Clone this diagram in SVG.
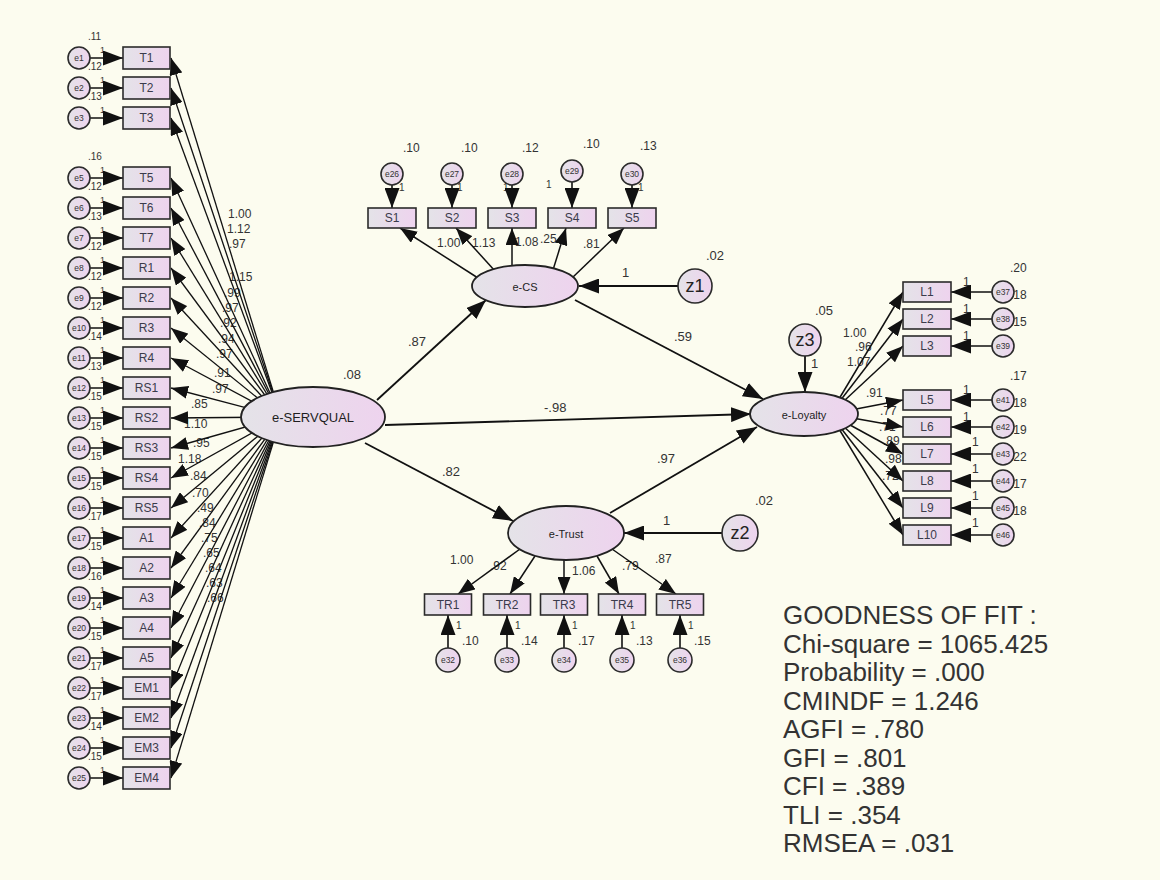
<svg xmlns="http://www.w3.org/2000/svg" width="1160" height="880" viewBox="0 0 1160 880">
<defs>
  <linearGradient id="gFill" x1="0" y1="0" x2="1" y2="0">
    <stop offset="0" stop-color="#e4e3e8"/>
    <stop offset="1" stop-color="#eed3ee"/>
  </linearGradient>
  <marker id="ah" viewBox="0 0 17 13" markerWidth="17" markerHeight="13" refX="17" refY="6.5" orient="auto" markerUnits="userSpaceOnUse">
    <path d="M0,0 L17,6.5 L0,13 z" fill="#111"/>
  </marker>
  <marker id="ahb" viewBox="0 0 20 15" markerWidth="20" markerHeight="15" refX="20" refY="7.5" orient="auto" markerUnits="userSpaceOnUse">
    <path d="M0,0 L20,7.5 L0,15 z" fill="#111"/>
  </marker>
</defs>
<style>
  .box{fill:url(#gFill);stroke:#2b2b2b;stroke-width:1.6}
  .lat{fill:url(#gFill);stroke:#222;stroke-width:1.8}
  .err{fill:url(#gFill);stroke:#2b2b2b;stroke-width:1.6}
  .c{stroke:#111;stroke-width:1.5;fill:none;marker-end:url(#ah)}
  .cf{stroke:#111;stroke-width:1.3;fill:none;marker-end:url(#ah)}
  .ce{stroke:#111;stroke-width:1.6;fill:none;marker-end:url(#ahb)}
  .cs{stroke:#111;stroke-width:1.8;fill:none;marker-end:url(#ahb)}
  text{font-family:"Liberation Sans",Arial,sans-serif;fill:#333}
  .bl{font-size:12px;text-anchor:middle;fill:#3b3b4b}
  .el{font-size:8.5px;text-anchor:middle;fill:#333}
  .ln{font-size:13px;text-anchor:middle;fill:#1e1e1e}
  .zl{font-size:18px;text-anchor:middle;fill:#222}
  .n{font-size:12px}
  .s{font-size:10px}
  .t{font-size:9px}
  .p{font-size:13px}
  .fit{font-size:26px;fill:#2a2a2a}
</style>

<rect x="0" y="0" width="1160" height="880" fill="#fcfcef"/>

<!-- estimates: variances, fixed weights, loadings, paths -->
<g id="labels">
  <!-- error variances, left column -->
  <g class="s">
    <text x="88" y="40">.11</text><text x="88" y="70">.12</text><text x="88" y="100">.13</text>
    <text x="88" y="160">.16</text><text x="88" y="190">.12</text><text x="88" y="220">.13</text>
    <text x="88" y="250">.12</text><text x="88" y="280">.12</text><text x="88" y="310">.12</text>
    <text x="88" y="340">.14</text><text x="88" y="370">.13</text><text x="88" y="400">.15</text>
    <text x="88" y="430">.15</text><text x="88" y="460">.15</text><text x="88" y="490">.15</text>
    <text x="88" y="520">.17</text><text x="88" y="550">.15</text><text x="88" y="580">.16</text>
    <text x="88" y="610">.14</text><text x="88" y="640">.15</text><text x="88" y="670">.17</text>
    <text x="88" y="700">.17</text><text x="88" y="730">.14</text><text x="88" y="760">.15</text>
  </g>
  <g class="t">
    <text x="100" y="53">1</text><text x="100" y="83">1</text><text x="100" y="113">1</text>
    <text x="100" y="173">1</text><text x="100" y="203">1</text><text x="100" y="233">1</text>
    <text x="100" y="263">1</text><text x="100" y="293">1</text><text x="100" y="323">1</text>
    <text x="100" y="353">1</text><text x="100" y="383">1</text><text x="100" y="413">1</text>
    <text x="100" y="443">1</text><text x="100" y="473">1</text><text x="100" y="503">1</text>
    <text x="100" y="533">1</text><text x="100" y="563">1</text><text x="100" y="593">1</text>
    <text x="100" y="623">1</text><text x="100" y="653">1</text><text x="100" y="683">1</text>
    <text x="100" y="713">1</text><text x="100" y="743">1</text><text x="100" y="773">1</text>
  </g>
  <!-- e-SERVQUAL loadings -->
  <g class="n">
    <text x="228" y="218">1.00</text><text x="227" y="233">1.12</text><text x="229" y="248">.97</text>
    <text x="229" y="281">1.15</text><text x="224" y="297">.99</text><text x="222" y="312">.97</text>
    <text x="220" y="327">.92</text><text x="218" y="343">.94</text><text x="216" y="358">.97</text>
    <text x="214" y="377">.91</text><text x="212" y="393">.97</text><text x="191" y="408">.85</text>
    <text x="184" y="428">1.10</text><text x="193" y="447">.95</text><text x="178" y="463">1.18</text>
    <text x="190" y="480">.84</text><text x="192" y="497">.70</text><text x="197" y="512">.49</text>
    <text x="199" y="527">.84</text><text x="201" y="542">.75</text><text x="203" y="557">.65</text>
    <text x="205" y="572">.64</text><text x="206" y="587">.63</text><text x="207" y="602">.66</text>
  </g>
  <!-- e-CS block -->
  <g class="n">
    <text x="403" y="152">.10</text><text x="461" y="152">.10</text><text x="522" y="152">.12</text>
    <text x="583" y="148">.10</text><text x="640" y="150">.13</text>
    <text x="437" y="247">1.00</text><text x="472" y="247">1.13</text><text x="515" y="246">1.08</text>
    <text x="540" y="243">.25</text><text x="583" y="248">.81</text>
  </g>
  <g class="s">
    <text x="399" y="191">1</text><text x="457" y="191">1</text><text x="503" y="191">1</text>
    <text x="546" y="188">1</text><text x="638" y="191">1</text>
  </g>
  <!-- e-Trust block -->
  <g class="n">
    <text x="450" y="564">1.00</text><text x="490" y="570">.92</text><text x="572" y="575">1.06</text>
    <text x="622" y="570">.79</text><text x="655" y="563">.87</text>
    <text x="462" y="645">.10</text><text x="521" y="645">.14</text><text x="578" y="645">.17</text>
    <text x="636" y="645">.13</text><text x="694" y="645">.15</text>
  </g>
  <g class="s">
    <text x="456" y="629">1</text><text x="515" y="629">1</text><text x="572" y="629">1</text>
    <text x="630" y="629">1</text><text x="688" y="629">1</text>
  </g>
  <!-- e-Loyalty block -->
  <g class="n">
    <text x="843" y="337">1.00</text><text x="855" y="351">.96</text><text x="847" y="366">1.07</text>
    <text x="866" y="397">.91</text><text x="880" y="415">.77</text><text x="879" y="431">.71</text>
    <text x="883" y="445">.89</text><text x="885" y="463">.98</text><text x="882" y="480">.72</text>
    <text x="1010" y="272">.20</text><text x="1010" y="299">.18</text><text x="1010" y="326">.15</text>
    <text x="1010" y="380">.17</text><text x="1010" y="407">.18</text><text x="1010" y="434">.19</text>
    <text x="1010" y="461">.22</text><text x="1010" y="488">.17</text><text x="1010" y="515">.18</text>
  </g>
  <g class="n">
    <text x="963" y="286">1</text><text x="963" y="313">1</text><text x="963" y="340">1</text>
    <text x="963" y="394">1</text><text x="963" y="421">1</text><text x="972" y="446">1</text>
    <text x="972" y="473">1</text><text x="972" y="500">1</text><text x="972" y="527">1</text>
  </g>
  <!-- structural paths and disturbances -->
  <g class="p">
    <text x="343" y="379">.08</text>
    <text x="408" y="346">.87</text>
    <text x="544" y="412">-.98</text>
    <text x="442" y="476">.82</text>
    <text x="674" y="341">.59</text>
    <text x="657" y="463">.97</text>
    <text x="622" y="277">1</text>
    <text x="706" y="260">.02</text>
    <text x="663" y="525">1</text>
    <text x="755" y="505">.02</text>
    <text x="815" y="315">.05</text>
    <text x="811" y="368">1</text>
  </g>
</g>

<g id="connectors">
  <!-- e-SERVQUAL to its indicators -->
  <g>
    <line class="cf" x1="281" y1="417" x2="171" y2="58"/>
    <line class="cf" x1="281" y1="417" x2="171" y2="88"/>
    <line class="cf" x1="281" y1="417" x2="171" y2="118"/>
    <line class="cf" x1="281" y1="417" x2="171" y2="178"/>
    <line class="cf" x1="281" y1="417" x2="171" y2="208"/>
    <line class="cf" x1="281" y1="417" x2="171" y2="238"/>
    <line class="cf" x1="281" y1="417" x2="171" y2="268"/>
    <line class="cf" x1="281" y1="417" x2="171" y2="298"/>
    <line class="cf" x1="281" y1="417" x2="171" y2="328"/>
    <line class="cf" x1="281" y1="417" x2="171" y2="358"/>
    <line class="cf" x1="281" y1="417" x2="171" y2="388"/>
    <line class="cf" x1="281" y1="417" x2="171" y2="418"/>
    <line class="cf" x1="281" y1="417" x2="171" y2="448"/>
    <line class="cf" x1="281" y1="417" x2="171" y2="478"/>
    <line class="cf" x1="281" y1="417" x2="171" y2="508"/>
    <line class="cf" x1="281" y1="417" x2="171" y2="538"/>
    <line class="cf" x1="281" y1="417" x2="171" y2="568"/>
    <line class="cf" x1="281" y1="417" x2="171" y2="598"/>
    <line class="cf" x1="281" y1="417" x2="171" y2="628"/>
    <line class="cf" x1="281" y1="417" x2="171" y2="658"/>
    <line class="cf" x1="281" y1="417" x2="171" y2="688"/>
    <line class="cf" x1="281" y1="417" x2="171" y2="718"/>
    <line class="cf" x1="281" y1="417" x2="171" y2="748"/>
    <line class="cf" x1="281" y1="417" x2="171" y2="778"/>
  </g>
  <!-- left error terms -->
  <g>
    <line class="ce" x1="90" y1="58" x2="123" y2="58"/>
    <line class="ce" x1="90" y1="88" x2="123" y2="88"/>
    <line class="ce" x1="90" y1="118" x2="123" y2="118"/>
    <line class="ce" x1="90" y1="178" x2="123" y2="178"/>
    <line class="ce" x1="90" y1="208" x2="123" y2="208"/>
    <line class="ce" x1="90" y1="238" x2="123" y2="238"/>
    <line class="ce" x1="90" y1="268" x2="123" y2="268"/>
    <line class="ce" x1="90" y1="298" x2="123" y2="298"/>
    <line class="ce" x1="90" y1="328" x2="123" y2="328"/>
    <line class="ce" x1="90" y1="358" x2="123" y2="358"/>
    <line class="ce" x1="90" y1="388" x2="123" y2="388"/>
    <line class="ce" x1="90" y1="418" x2="123" y2="418"/>
    <line class="ce" x1="90" y1="448" x2="123" y2="448"/>
    <line class="ce" x1="90" y1="478" x2="123" y2="478"/>
    <line class="ce" x1="90" y1="508" x2="123" y2="508"/>
    <line class="ce" x1="90" y1="538" x2="123" y2="538"/>
    <line class="ce" x1="90" y1="568" x2="123" y2="568"/>
    <line class="ce" x1="90" y1="598" x2="123" y2="598"/>
    <line class="ce" x1="90" y1="628" x2="123" y2="628"/>
    <line class="ce" x1="90" y1="658" x2="123" y2="658"/>
    <line class="ce" x1="90" y1="688" x2="123" y2="688"/>
    <line class="ce" x1="90" y1="718" x2="123" y2="718"/>
    <line class="ce" x1="90" y1="748" x2="123" y2="748"/>
    <line class="ce" x1="90" y1="778" x2="123" y2="778"/>
  </g>
  <!-- e-CS indicators -->
  <g>
    <line class="c" x1="478" y1="278" x2="400" y2="228"/>
    <line class="c" x1="495" y1="271" x2="456" y2="228"/>
    <line class="c" x1="512" y1="268" x2="512" y2="228"/>
    <line class="c" x1="553" y1="270" x2="566" y2="228"/>
    <line class="c" x1="572" y1="278" x2="624" y2="228"/>
    <line class="ce" x1="392" y1="185" x2="392" y2="208"/>
    <line class="ce" x1="452" y1="185" x2="452" y2="208"/>
    <line class="ce" x1="512" y1="185" x2="512" y2="208"/>
    <line class="ce" x1="572" y1="182" x2="572" y2="208"/>
    <line class="ce" x1="632" y1="185" x2="632" y2="208"/>
  </g>
  <!-- e-Trust indicators -->
  <g>
    <line class="c" x1="520" y1="549" x2="458" y2="594"/>
    <line class="c" x1="535" y1="556" x2="510" y2="594"/>
    <line class="c" x1="564" y1="560" x2="564" y2="594"/>
    <line class="c" x1="597" y1="556" x2="619" y2="594"/>
    <line class="c" x1="612" y1="549" x2="676" y2="594"/>
    <line class="ce" x1="448" y1="648" x2="448" y2="615"/>
    <line class="ce" x1="507" y1="648" x2="507" y2="615"/>
    <line class="ce" x1="564" y1="648" x2="564" y2="615"/>
    <line class="ce" x1="622" y1="648" x2="622" y2="615"/>
    <line class="ce" x1="680" y1="648" x2="680" y2="615"/>
  </g>
  <!-- e-Loyalty indicators -->
  <g>
    <line class="c" x1="830" y1="414" x2="903" y2="292"/>
    <line class="c" x1="830" y1="414" x2="903" y2="319"/>
    <line class="c" x1="830" y1="414" x2="903" y2="346"/>
    <line class="c" x1="830" y1="414" x2="903" y2="400"/>
    <line class="c" x1="830" y1="414" x2="903" y2="427"/>
    <line class="c" x1="830" y1="414" x2="903" y2="454"/>
    <line class="c" x1="830" y1="414" x2="903" y2="481"/>
    <line class="c" x1="830" y1="414" x2="903" y2="508"/>
    <line class="c" x1="830" y1="414" x2="903" y2="535"/>
    <line class="ce" x1="992" y1="292" x2="951" y2="292"/>
    <line class="ce" x1="992" y1="319" x2="951" y2="319"/>
    <line class="ce" x1="992" y1="346" x2="951" y2="346"/>
    <line class="ce" x1="992" y1="400" x2="951" y2="400"/>
    <line class="ce" x1="992" y1="427" x2="951" y2="427"/>
    <line class="ce" x1="992" y1="454" x2="951" y2="454"/>
    <line class="ce" x1="992" y1="481" x2="951" y2="481"/>
    <line class="ce" x1="992" y1="508" x2="951" y2="508"/>
    <line class="ce" x1="992" y1="535" x2="951" y2="535"/>
  </g>
  <!-- structural paths -->
  <g>
    <line class="cs" x1="377" y1="400" x2="486" y2="300"/>
    <line class="cs" x1="385" y1="425" x2="751" y2="414"/>
    <line class="cs" x1="365" y1="443" x2="513" y2="521"/>
    <line class="cs" x1="575" y1="300" x2="763" y2="399"/>
    <line class="cs" x1="610" y1="513" x2="757" y2="427"/>
    <line class="cs" x1="678" y1="286" x2="579" y2="286"/>
    <line class="cs" x1="722" y1="533" x2="624" y2="533"/>
    <line class="cs" x1="805" y1="356" x2="805" y2="392"/>
  </g>
</g>

<!-- latent variables -->
<g id="e-SERVQUAL"><ellipse class="lat" cx="313" cy="417" rx="72" ry="30"/><text class="ln" x="313" y="422">e-SERVQUAL</text></g>
<g id="e-CS"><ellipse class="lat" cx="525" cy="286" rx="53" ry="21"/><text class="ln" x="525" y="291" style="font-size:11px">e-CS</text></g>
<g id="e-Trust"><ellipse class="lat" cx="566" cy="533" rx="58" ry="27"/><text class="ln" x="566" y="538" style="font-size:11px">e-Trust</text></g>
<g id="e-Loyalty"><ellipse class="lat" cx="804" cy="414" rx="54" ry="22"/><text class="ln" x="804" y="419" style="font-size:11px">e-Loyalty</text></g>

<!-- disturbances -->
<g id="z1"><circle class="err" cx="695" cy="286" r="17"/><text class="zl" x="695" y="292">z1</text></g>
<g id="z2"><circle class="err" cx="740" cy="533" r="18"/><text class="zl" x="740" y="539">z2</text></g>
<g id="z3"><circle class="err" cx="805" cy="340" r="16"/><text class="zl" x="805" y="346">z3</text></g>

<!-- e-SERVQUAL indicators -->
<g id="T1"><rect class="box" x="123" y="47" width="47" height="22"/><text class="bl" x="146.5" y="62">T1</text></g>
<g id="T2"><rect class="box" x="123" y="77" width="47" height="22"/><text class="bl" x="146.5" y="92">T2</text></g>
<g id="T3"><rect class="box" x="123" y="107" width="47" height="22"/><text class="bl" x="146.5" y="122">T3</text></g>
<g id="T5"><rect class="box" x="123" y="167" width="47" height="22"/><text class="bl" x="146.5" y="182">T5</text></g>
<g id="T6"><rect class="box" x="123" y="197" width="47" height="22"/><text class="bl" x="146.5" y="212">T6</text></g>
<g id="T7"><rect class="box" x="123" y="227" width="47" height="22"/><text class="bl" x="146.5" y="242">T7</text></g>
<g id="R1"><rect class="box" x="123" y="257" width="47" height="22"/><text class="bl" x="146.5" y="272">R1</text></g>
<g id="R2"><rect class="box" x="123" y="287" width="47" height="22"/><text class="bl" x="146.5" y="302">R2</text></g>
<g id="R3"><rect class="box" x="123" y="317" width="47" height="22"/><text class="bl" x="146.5" y="332">R3</text></g>
<g id="R4"><rect class="box" x="123" y="347" width="47" height="22"/><text class="bl" x="146.5" y="362">R4</text></g>
<g id="RS1"><rect class="box" x="123" y="377" width="47" height="22"/><text class="bl" x="146.5" y="392">RS1</text></g>
<g id="RS2"><rect class="box" x="123" y="407" width="47" height="22"/><text class="bl" x="146.5" y="422">RS2</text></g>
<g id="RS3"><rect class="box" x="123" y="437" width="47" height="22"/><text class="bl" x="146.5" y="452">RS3</text></g>
<g id="RS4"><rect class="box" x="123" y="467" width="47" height="22"/><text class="bl" x="146.5" y="482">RS4</text></g>
<g id="RS5"><rect class="box" x="123" y="497" width="47" height="22"/><text class="bl" x="146.5" y="512">RS5</text></g>
<g id="A1"><rect class="box" x="123" y="527" width="47" height="22"/><text class="bl" x="146.5" y="542">A1</text></g>
<g id="A2"><rect class="box" x="123" y="557" width="47" height="22"/><text class="bl" x="146.5" y="572">A2</text></g>
<g id="A3"><rect class="box" x="123" y="587" width="47" height="22"/><text class="bl" x="146.5" y="602">A3</text></g>
<g id="A4"><rect class="box" x="123" y="617" width="47" height="22"/><text class="bl" x="146.5" y="632">A4</text></g>
<g id="A5"><rect class="box" x="123" y="647" width="47" height="22"/><text class="bl" x="146.5" y="662">A5</text></g>
<g id="EM1"><rect class="box" x="123" y="677" width="47" height="22"/><text class="bl" x="146.5" y="692">EM1</text></g>
<g id="EM2"><rect class="box" x="123" y="707" width="47" height="22"/><text class="bl" x="146.5" y="722">EM2</text></g>
<g id="EM3"><rect class="box" x="123" y="737" width="47" height="22"/><text class="bl" x="146.5" y="752">EM3</text></g>
<g id="EM4"><rect class="box" x="123" y="767" width="47" height="22"/><text class="bl" x="146.5" y="782">EM4</text></g>

<!-- left error terms -->
<g id="e1"><circle class="err" cx="79" cy="58" r="11"/><text class="el" x="79" y="61">e1</text></g>
<g id="e2"><circle class="err" cx="79" cy="88" r="11"/><text class="el" x="79" y="91">e2</text></g>
<g id="e3"><circle class="err" cx="79" cy="118" r="11"/><text class="el" x="79" y="121">e3</text></g>
<g id="e5"><circle class="err" cx="79" cy="178" r="11"/><text class="el" x="79" y="181">e5</text></g>
<g id="e6"><circle class="err" cx="79" cy="208" r="11"/><text class="el" x="79" y="211">e6</text></g>
<g id="e7"><circle class="err" cx="79" cy="238" r="11"/><text class="el" x="79" y="241">e7</text></g>
<g id="e8"><circle class="err" cx="79" cy="268" r="11"/><text class="el" x="79" y="271">e8</text></g>
<g id="e9"><circle class="err" cx="79" cy="298" r="11"/><text class="el" x="79" y="301">e9</text></g>
<g id="e10"><circle class="err" cx="79" cy="328" r="11"/><text class="el" x="79" y="331">e10</text></g>
<g id="e11"><circle class="err" cx="79" cy="358" r="11"/><text class="el" x="79" y="361">e11</text></g>
<g id="e12"><circle class="err" cx="79" cy="388" r="11"/><text class="el" x="79" y="391">e12</text></g>
<g id="e13"><circle class="err" cx="79" cy="418" r="11"/><text class="el" x="79" y="421">e13</text></g>
<g id="e14"><circle class="err" cx="79" cy="448" r="11"/><text class="el" x="79" y="451">e14</text></g>
<g id="e15"><circle class="err" cx="79" cy="478" r="11"/><text class="el" x="79" y="481">e15</text></g>
<g id="e16"><circle class="err" cx="79" cy="508" r="11"/><text class="el" x="79" y="511">e16</text></g>
<g id="e17"><circle class="err" cx="79" cy="538" r="11"/><text class="el" x="79" y="541">e17</text></g>
<g id="e18"><circle class="err" cx="79" cy="568" r="11"/><text class="el" x="79" y="571">e18</text></g>
<g id="e19"><circle class="err" cx="79" cy="598" r="11"/><text class="el" x="79" y="601">e19</text></g>
<g id="e20"><circle class="err" cx="79" cy="628" r="11"/><text class="el" x="79" y="631">e20</text></g>
<g id="e21"><circle class="err" cx="79" cy="658" r="11"/><text class="el" x="79" y="661">e21</text></g>
<g id="e22"><circle class="err" cx="79" cy="688" r="11"/><text class="el" x="79" y="691">e22</text></g>
<g id="e23"><circle class="err" cx="79" cy="718" r="11"/><text class="el" x="79" y="721">e23</text></g>
<g id="e24"><circle class="err" cx="79" cy="748" r="11"/><text class="el" x="79" y="751">e24</text></g>
<g id="e25"><circle class="err" cx="79" cy="778" r="11"/><text class="el" x="79" y="781">e25</text></g>

<!-- e-CS indicators and errors -->
<g id="S1"><rect class="box" x="368" y="208" width="48" height="20"/><text class="bl" x="392" y="222">S1</text></g>
<g id="S2"><rect class="box" x="428" y="208" width="48" height="20"/><text class="bl" x="452" y="222">S2</text></g>
<g id="S3"><rect class="box" x="488" y="208" width="48" height="20"/><text class="bl" x="512" y="222">S3</text></g>
<g id="S4"><rect class="box" x="548" y="208" width="48" height="20"/><text class="bl" x="572" y="222">S4</text></g>
<g id="S5"><rect class="box" x="608" y="208" width="48" height="20"/><text class="bl" x="632" y="222">S5</text></g>
<g id="e26"><circle class="err" cx="392" cy="174" r="11"/><text class="el" x="392" y="177">e26</text></g>
<g id="e27"><circle class="err" cx="452" cy="174" r="11"/><text class="el" x="452" y="177">e27</text></g>
<g id="e28"><circle class="err" cx="512" cy="174" r="11"/><text class="el" x="512" y="177">e28</text></g>
<g id="e29"><circle class="err" cx="572" cy="171" r="11"/><text class="el" x="572" y="174">e29</text></g>
<g id="e30"><circle class="err" cx="632" cy="174" r="11"/><text class="el" x="632" y="177">e30</text></g>

<!-- e-Trust indicators and errors -->
<g id="TR1"><rect class="box" x="424.5" y="594" width="47" height="21"/><text class="bl" x="448" y="609">TR1</text></g>
<g id="TR2"><rect class="box" x="483.5" y="594" width="47" height="21"/><text class="bl" x="507" y="609">TR2</text></g>
<g id="TR3"><rect class="box" x="540.5" y="594" width="47" height="21"/><text class="bl" x="564" y="609">TR3</text></g>
<g id="TR4"><rect class="box" x="598.5" y="594" width="47" height="21"/><text class="bl" x="622" y="609">TR4</text></g>
<g id="TR5"><rect class="box" x="656.5" y="594" width="47" height="21"/><text class="bl" x="680" y="609">TR5</text></g>
<g id="e32"><circle class="err" cx="448" cy="660" r="12"/><text class="el" x="448" y="663">e32</text></g>
<g id="e33"><circle class="err" cx="507" cy="660" r="12"/><text class="el" x="507" y="663">e33</text></g>
<g id="e34"><circle class="err" cx="564" cy="660" r="12"/><text class="el" x="564" y="663">e34</text></g>
<g id="e35"><circle class="err" cx="622" cy="660" r="12"/><text class="el" x="622" y="663">e35</text></g>
<g id="e36"><circle class="err" cx="680" cy="660" r="12"/><text class="el" x="680" y="663">e36</text></g>

<!-- e-Loyalty indicators and errors -->
<g id="L1"><rect class="box" x="903" y="282" width="48" height="20"/><text class="bl" x="927" y="296">L1</text></g>
<g id="L2"><rect class="box" x="903" y="309" width="48" height="20"/><text class="bl" x="927" y="323">L2</text></g>
<g id="L3"><rect class="box" x="903" y="336" width="48" height="20"/><text class="bl" x="927" y="350">L3</text></g>
<g id="L5"><rect class="box" x="903" y="390" width="48" height="20"/><text class="bl" x="927" y="404">L5</text></g>
<g id="L6"><rect class="box" x="903" y="417" width="48" height="20"/><text class="bl" x="927" y="431">L6</text></g>
<g id="L7"><rect class="box" x="903" y="444" width="48" height="20"/><text class="bl" x="927" y="458">L7</text></g>
<g id="L8"><rect class="box" x="903" y="471" width="48" height="20"/><text class="bl" x="927" y="485">L8</text></g>
<g id="L9"><rect class="box" x="903" y="498" width="48" height="20"/><text class="bl" x="927" y="512">L9</text></g>
<g id="L10"><rect class="box" x="903" y="525" width="48" height="20"/><text class="bl" x="927" y="539">L10</text></g>
<g id="e37"><circle class="err" cx="1003" cy="292" r="11"/><text class="el" x="1003" y="295">e37</text></g>
<g id="e38"><circle class="err" cx="1003" cy="319" r="11"/><text class="el" x="1003" y="322">e38</text></g>
<g id="e39"><circle class="err" cx="1003" cy="346" r="11"/><text class="el" x="1003" y="349">e39</text></g>
<g id="e41"><circle class="err" cx="1003" cy="400" r="11"/><text class="el" x="1003" y="403">e41</text></g>
<g id="e42"><circle class="err" cx="1003" cy="427" r="11"/><text class="el" x="1003" y="430">e42</text></g>
<g id="e43"><circle class="err" cx="1003" cy="454" r="11"/><text class="el" x="1003" y="457">e43</text></g>
<g id="e44"><circle class="err" cx="1003" cy="481" r="11"/><text class="el" x="1003" y="484">e44</text></g>
<g id="e45"><circle class="err" cx="1003" cy="508" r="11"/><text class="el" x="1003" y="511">e45</text></g>
<g id="e46"><circle class="err" cx="1003" cy="535" r="11"/><text class="el" x="1003" y="538">e46</text></g>

<!-- fit summary -->
<g id="fit" class="fit">
  <text x="783" y="624">GOODNESS OF FIT :</text>
  <text x="783" y="652.5">Chi-square = 1065.425</text>
  <text x="783" y="681">Probability = .000</text>
  <text x="783" y="709.5">CMINDF = 1.246</text>
  <text x="783" y="738">AGFI = .780</text>
  <text x="783" y="766.5">GFI = .801</text>
  <text x="783" y="795">CFI = .389</text>
  <text x="783" y="823.5">TLI = .354</text>
  <text x="783" y="852">RMSEA = .031</text>
</g>
</svg>
